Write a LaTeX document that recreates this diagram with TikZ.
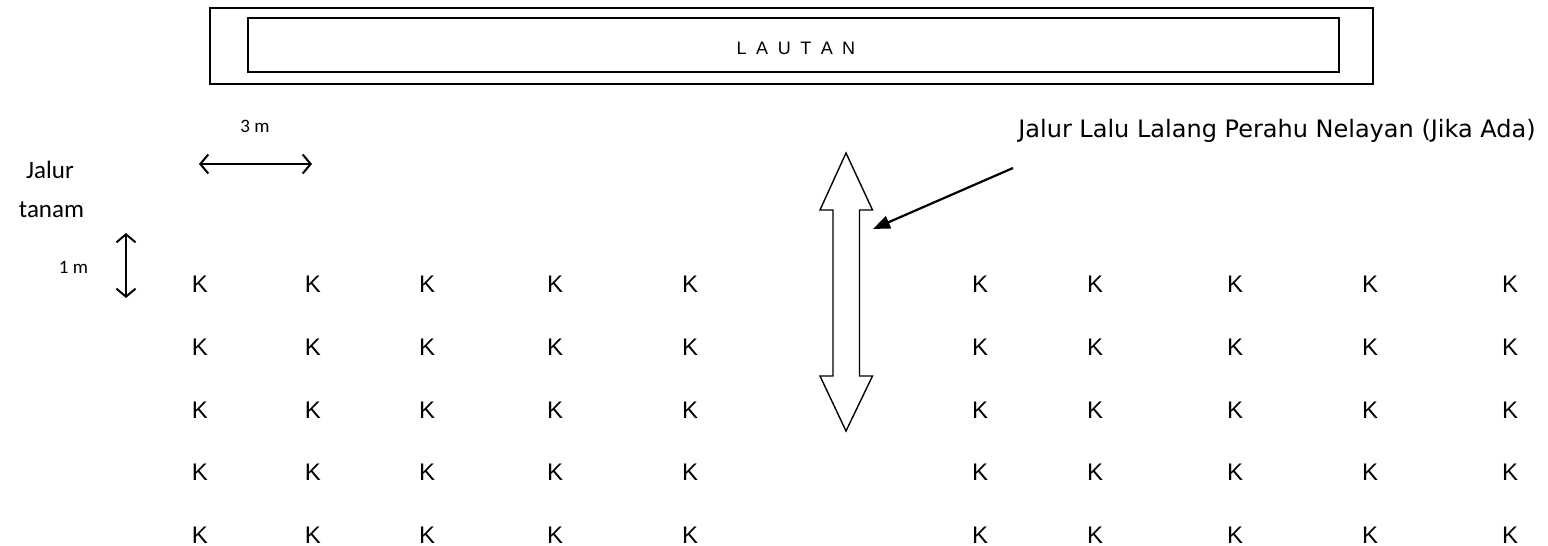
\documentclass[tikz,border=0pt]{standalone}
\usepackage{fontspec}
\setmainfont{Liberation Sans}
\newfontfamily\carlito{Carlito}
\newfontfamily\dejavu{DejaVu Sans}
\usetikzlibrary{arrows.meta}
\begin{document}
\begin{tikzpicture}[x=1pt,y=-1pt,
  plant/.style={font=\fontsize{24}{28}\selectfont, inner sep=0pt},
  smalllbl/.style={font=\carlito\fontsize{19}{22}\selectfont, inner sep=0pt, anchor=base},
  sidelbl/.style={font=\carlito\fontsize{25}{29}\selectfont, inner sep=0pt, anchor=base},
  dimarrow/.style={line width=2pt, {Straight Barb[length=8pt,width=19pt]}-{Straight Barb[length=8pt,width=19pt]}},
  blockarrow/.style={line width=1.4pt, line join=miter, fill=white},
  pointer/.style={line width=2.2pt, -{Triangle[length=17pt,width=13pt]}}]
\useasboundingbox (0,0) rectangle (1548,546);

% sea frame
\draw[line width=1.6pt] (210,8) rectangle (1373,84);
\draw[line width=2pt] (248,18) rectangle (1339,72);
\node[font=\fontsize{18}{20}\selectfont, inner sep=0pt] (laut) at (796,48)
  {L\hspace{9.5pt}A\hspace{9.5pt}U\hspace{9.5pt}T\hspace{9.5pt}A\hspace{9.5pt}N};

% spacing indicators
\node[smalllbl] (tigam) at (255,132) {3 m};
\coordinate (h1) at (199,164);
\coordinate (h2) at (312,164);
\draw[dimarrow] (h1) -- (h2);

\node[sidelbl] (jalur) at (50,178) {Jalur};
\node[sidelbl] (tanam) at (51.5,217) {tanam};

\node[smalllbl] (satum) at (73.5,273) {1 m};
\coordinate (v1) at (126,233);
\coordinate (v2) at (126,298);
\draw[dimarrow] (v1) -- (v2);

% planting grid
\foreach \x [count=\i] in {200,313,427,555,690,980,1095,1235,1370,1510}{
  \foreach \y [count=\j] in {284,347,410,472,535}{
    \node[plant] (k-\i-\j) at (\x,\y) {K};
  }
}

% boat lane
\draw[blockarrow] (846,153) -- (872.5,210) -- (859.5,210) -- (859.5,376)
  -- (872.5,376) -- (846,431) -- (820,376) -- (833,376) -- (833,210)
  -- (820,210) -- cycle;
\coordinate (lane) at (873,229);

\node[font=\dejavu\fontsize{24}{28}\selectfont, inner sep=0pt, anchor=base] (ket) at (1277,137)
  {Jalur Lalu Lalang Perahu Nelayan (Jika Ada)};
\coordinate (p0) at (1013,168);
\draw[pointer] (p0) -- (lane);
\end{tikzpicture}
\end{document}
